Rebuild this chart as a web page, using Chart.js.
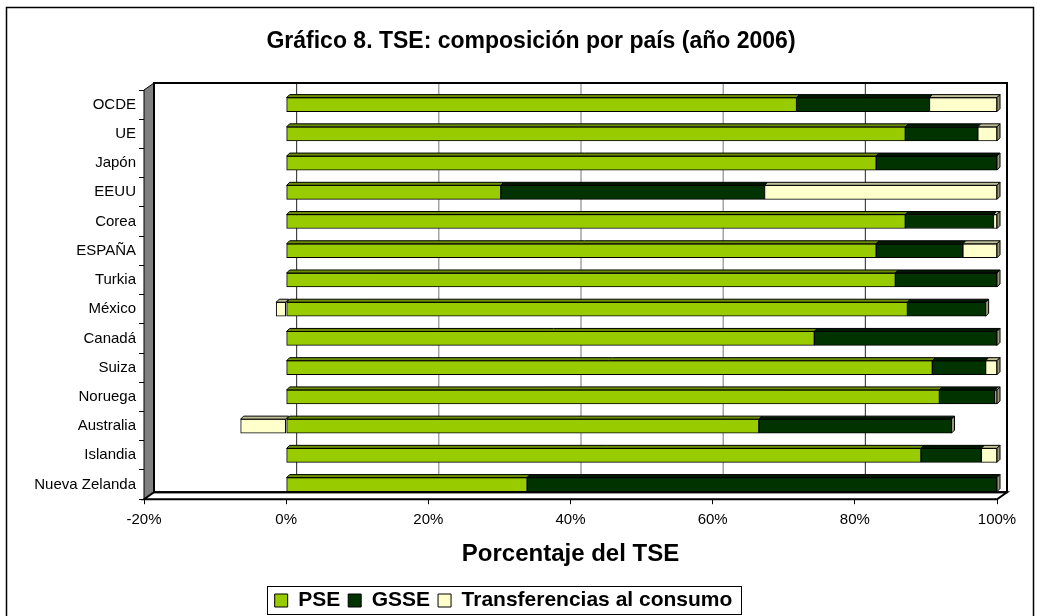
<!DOCTYPE html>
<html>
<head>
<meta charset="utf-8">
<script src="https://cdn.jsdelivr.net/npm/chart.js@4/dist/chart.umd.min.js"></script>
<style>
  body { margin: 0; background: #fff; }
  canvas { display: block; }
</style>
</head>
<body>
<canvas id="chart" width="1040" height="616"></canvas>
<script>
// países, de arriba a abajo
const COUNTRIES = ["OCDE", "UE", "Japón", "EEUU", "Corea", "ESPAÑA", "Turkia", "México",
  "Canadá", "Suiza", "Noruega", "Australia", "Islandia", "Nueva Zelanda"];
// % del TSE
const PSE  = [71.8, 87.1, 83.0, 30.2, 87.1, 83.0, 85.7, 87.4, 74.3, 90.9, 91.9, 66.5, 89.3, 33.9];
const GSSE = [18.7, 10.2, 17.0, 37.1, 12.4, 12.2, 14.3, 11.0, 25.7, 7.5, 7.8, 27.1, 8.5, 66.1];
const TC   = [9.5, 2.7, 0, 32.7, 0.5, 4.8, 0, -1.4, 0, 1.6, 0.3, -6.4, 2.2, 0];
const X_TICKS = [-20, 0, 20, 40, 60, 80, 100];
const TITLE = "Gráfico 8. TSE: composición por país (año 2006)";

const FONT = "'Liberation Sans', Arial, sans-serif";
const DEPTH_X = 10;
const DEPTH_Y = 7;
const BAR_D = 3;
const TOP_COLORS = ["#6b8f00", "#001a00", "#bfbf99"];

// paredes, suelo y rejilla "3D" al estilo Excel
const wallsPlugin = {
  id: "walls",
  beforeDatasetsDraw(chart) {
    const ctx = chart.ctx;
    const ca = chart.chartArea;
    const xs = chart.scales.x;
    ctx.save();
    // plano de fondo
    ctx.fillStyle = "#ffffff";
    ctx.fillRect(ca.left + DEPTH_X, ca.top - DEPTH_Y, ca.right - ca.left, ca.bottom - ca.top);
    // rejilla vertical en el plano de fondo
    X_TICKS.forEach((v) => {
      if (v === -20) return;
      const px = xs.getPixelForValue(v);
      ctx.strokeStyle = (v === 0 || v === 80) ? "#222" : "#777";
      ctx.lineWidth = 1;
      ctx.beginPath();
      ctx.moveTo(px + DEPTH_X + 0.5, ca.top - DEPTH_Y);
      ctx.lineTo(px + DEPTH_X + 0.5, ca.bottom - DEPTH_Y);
      ctx.lineTo(px + 0.5, ca.bottom);
      ctx.stroke();
    });
    // pared izquierda
    ctx.fillStyle = "#808080";
    ctx.strokeStyle = "#000";
    ctx.lineWidth = 1;
    ctx.beginPath();
    ctx.moveTo(ca.left, ca.top);
    ctx.lineTo(ca.left + DEPTH_X, ca.top - DEPTH_Y);
    ctx.lineTo(ca.left + DEPTH_X, ca.bottom - DEPTH_Y);
    ctx.lineTo(ca.left, ca.bottom);
    ctx.closePath();
    ctx.fill();
    ctx.stroke();
    // suelo
    ctx.fillStyle = "#ffffff";
    ctx.beginPath();
    ctx.moveTo(ca.left, ca.bottom);
    ctx.lineTo(ca.left + DEPTH_X, ca.bottom - DEPTH_Y);
    ctx.lineTo(ca.right + DEPTH_X, ca.bottom - DEPTH_Y);
    ctx.lineTo(ca.right, ca.bottom);
    ctx.closePath();
    ctx.fill();
    ctx.lineWidth = 2;
    ctx.stroke();
    // marco del fondo
    ctx.lineWidth = 2;
    ctx.strokeRect(ca.left + DEPTH_X, ca.top - DEPTH_Y, ca.right - ca.left, ca.bottom - ca.top);
    ctx.restore();
  },
  afterDatasetsDraw(chart) {
    const ctx = chart.ctx;
    ctx.save();
    ctx.lineWidth = 1;
    ctx.strokeStyle = "#000";
    const outer = {};
    chart.data.datasets.forEach((ds, di) => {
      chart.getDatasetMeta(di).data.forEach((el, i) => {
        const left = Math.min(el.x, el.base);
        const right = Math.max(el.x, el.base);
        if (right - left < 0.5) return;
        const top = el.y - el.height / 2;
        ctx.fillStyle = TOP_COLORS[di];
        ctx.beginPath();
        ctx.moveTo(left, top);
        ctx.lineTo(left + BAR_D, top - BAR_D);
        ctx.lineTo(right + BAR_D, top - BAR_D);
        ctx.lineTo(right, top);
        ctx.closePath();
        ctx.fill();
        ctx.stroke();
        if (!outer[i] || right > outer[i].right) outer[i] = { right, top, bottom: top + el.height };
      });
    });
    Object.values(outer).forEach((o) => {
      ctx.fillStyle = "#999977";
      ctx.beginPath();
      ctx.moveTo(o.right, o.top);
      ctx.lineTo(o.right + BAR_D, o.top - BAR_D);
      ctx.lineTo(o.right + BAR_D, o.bottom - BAR_D);
      ctx.lineTo(o.right, o.bottom);
      ctx.closePath();
      ctx.fill();
      ctx.stroke();
    });
    ctx.restore();
  },
  afterDraw(chart) {
    const ctx = chart.ctx;
    ctx.save();
    // título (centrado como en el original, algo a la derecha)
    ctx.fillStyle = "#000";
    ctx.font = "bold 23px " + FONT;
    ctx.textAlign = "center";
    ctx.textBaseline = "middle";
    ctx.fillText(TITLE, 531, 42);
    // marco exterior
    ctx.strokeStyle = "#000";
    ctx.lineWidth = 1.5;
    ctx.strokeRect(6.5, 7.5, 1027, 640);
    // marco de la leyenda
    const boxes = chart.legend.legendHitBoxes;
    if (boxes && boxes.length) {
      const l = Math.min(...boxes.map((b) => b.left)) - 8;
      const r = Math.max(...boxes.map((b) => b.left + b.width)) + 8;
      const t = Math.min(...boxes.map((b) => b.top)) - 4;
      const b = Math.max(...boxes.map((b) => b.top + b.height)) + 3;
      ctx.lineWidth = 1;
      ctx.strokeRect(Math.round(l) + 0.5, Math.round(t) + 0.5, Math.round(r - l), Math.round(b - t));
    }
    ctx.restore();
  },
};

const ctx = document.getElementById("chart").getContext("2d");
new Chart(ctx, {
  type: "bar",
  data: {
    labels: COUNTRIES,
    datasets: [
      { label: "PSE", data: PSE, backgroundColor: "#99cc00" },
      { label: "GSSE", data: GSSE, backgroundColor: "#003300" },
      { label: "Transferencias al consumo", data: TC, backgroundColor: "#ffffcc" },
    ].map((d) => Object.assign(d, { borderColor: "#000", borderWidth: 1, borderSkipped: false, barThickness: 14 })),
  },
  options: {
    indexAxis: "y",
    responsive: false,
    animation: false,
    layout: { padding: { left: 10, right: 43, top: 90, bottom: -5 } },
    plugins: {
      title: { display: false },
      legend: {
        position: "bottom",
        labels: {
          color: "#000",
          font: { family: FONT, size: 21, weight: "bold" },
          boxWidth: 13,
          boxHeight: 13,
          padding: 8,
        },
      },
      tooltip: { enabled: false },
    },
    scales: {
      x: {
        stacked: true,
        min: -20,
        max: 100,
        afterBuildTicks: (scale) => { scale.ticks = X_TICKS.map((v) => ({ value: v })); },
        ticks: {
          color: "#000",
          font: { family: FONT, size: 15 },
          padding: 7,
          callback: (v) => v + "%",
        },
        grid: { display: true, drawOnChartArea: false, tickLength: 5, color: "#000" },
        border: { display: false },
        title: {
          display: true,
          text: "Porcentaje del TSE",
          color: "#000",
          font: { family: FONT, size: 24, weight: "bold" },
          padding: { top: 4, bottom: 13 },
        },
      },
      y: {
        stacked: true,
        afterFit: (scale) => { scale.width = 134; },
        ticks: {
          color: "#000",
          font: { family: FONT, size: 15 },
          padding: 3,
        },
        grid: { display: true, drawOnChartArea: false, offset: true, tickLength: 5, color: "#000" },
        border: { display: false },
      },
    },
  },
  plugins: [wallsPlugin],
});
</script>
</body>
</html>
